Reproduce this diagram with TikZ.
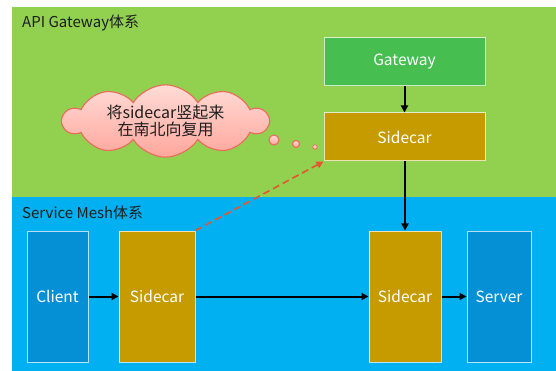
\documentclass[tikz,border=0pt]{standalone}
\usepackage{fontspec}
\setmainfont{Noto Sans CJK SC}
\usetikzlibrary{shapes.symbols,arrows.meta}

\definecolor{zoneGreen}{HTML}{92D050}
\definecolor{zoneBlue}{HTML}{00B0F0}
\definecolor{gwGreen}{HTML}{46BE50}
\definecolor{carGold}{HTML}{C59B00}
\definecolor{appBlue}{HTML}{0590D6}
\definecolor{cloudLine}{HTML}{EC6A5A}
\definecolor{cloudTop}{HTML}{FFDCD6}
\definecolor{cloudBot}{HTML}{FFA69C}
\definecolor{dashRed}{HTML}{E8542E}
\definecolor{labelInk}{HTML}{1E1E1E}

\tikzset{
  block/.style={draw=white, draw opacity=0.7, line width=1pt, text=white,
    font=\fontsize{15.5}{17}\selectfont, inner sep=0pt},
  wideblock/.style={block, minimum width=161pt, minimum height=48pt},
  tallblock/.style={block, minimum height=131pt},
  zonelabel/.style={anchor=west, text=labelInk, font=\fontsize{15}{17}\selectfont, inner sep=0pt},
  flow/.style={-{Triangle[length=7pt,width=7pt]}, line width=2pt, black},
  puff/.style={draw=cloudLine, line width=1.1pt, top color=cloudTop, bottom color=cloudBot},
}

\begin{document}
\begin{tikzpicture}[x=1pt,y=-1pt]
  \useasboundingbox (0,0) rectangle (556,371);
  \fill[white] (0,0) rectangle (556,371);

  % two zones
  \fill[zoneGreen] (12,7) rectangle (556,197);
  \fill[zoneBlue] (12,197) rectangle (556,371);
  \node[zonelabel] (apiLabel) at (22,23) {API Gateway体系};
  \node[zonelabel] (meshLabel) at (22,213) {Service Mesh体系};

  % north-south path
  \node[wideblock, fill=gwGreen] (gateway) at (404.5,62) {Gateway};
  \node[wideblock, fill=carGold] (topCar) at (404.5,137) {Sidecar};

  % east-west path
  \node[tallblock, fill=appBlue, minimum width=61pt] (client) at (57.5,296.5) {Client};
  \node[tallblock, fill=carGold, minimum width=76pt] (leftCar) at (157,296.5) {Sidecar};
  \node[tallblock, fill=carGold, minimum width=72pt] (rightCar) at (405,296.5) {Sidecar};
  \node[tallblock, fill=appBlue, minimum width=64pt] (server) at (499,296.5) {Server};

  \draw[flow] (gateway) -- (topCar);
  \draw[flow] (topCar.south -| rightCar.north) -- (rightCar.north);
  \draw[flow] (client) -- (leftCar);
  \draw[flow] (leftCar) -- (rightCar);
  \draw[flow] (rightCar) -- (server);

  \draw[dashRed, line width=1.6pt, dash pattern=on 7pt off 4pt,
        -{Triangle[length=7pt,width=7pt]}] (leftCar.north east) -- (topCar.south west);

  % thought cloud
  \node[puff, cloud, cloud puffs=10, cloud puff arc=115, aspect=3.6,
        minimum width=205pt, minimum height=55pt, inner sep=0pt,
        text=labelInk, align=center, font=\fontsize{16}{17.5}\selectfont]
        (idea) at (165.5,121) {将sidecar竖起来\\在南北向复用};
  \node[puff, circle, minimum size=10pt, inner sep=0pt] (dotA) at (274,140) {};
  \node[puff, circle, minimum size=7pt, inner sep=0pt] (dotB) at (296,144) {};
  \node[puff, circle, minimum size=4.5pt, inner sep=0pt, line width=0.7pt] (dotC) at (315,147) {};
\end{tikzpicture}
\end{document}
